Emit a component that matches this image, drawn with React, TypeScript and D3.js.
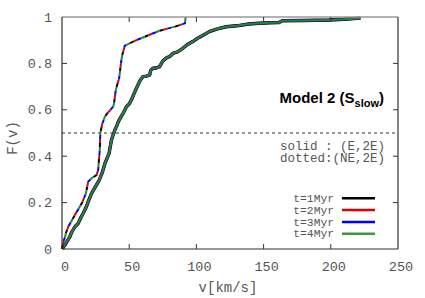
import React from "react";
import * as d3 from "d3";

const xTicks = [0, 50, 100, 150, 200, 250];
const yTicks = [0, 0.2, 0.4, 0.6, 0.8, 1];
const yTickLabels = ["0", "0.2", "0.4", "0.6", "0.8", "1"];

// solid: (E,2E)
const solidV = [0.5, 1, 2.2, 3.5, 5.9, 7, 9.6, 12, 14, 15.8, 18, 19.5, 22, 25, 27.7, 30, 32, 35, 36.8, 39.3, 40.5, 42, 44.2, 46, 47.9, 50, 51.6, 54, 56.5, 58, 60.2, 63, 65.2, 66, 67.6, 70, 72.6, 75, 78, 80, 82.5, 86, 89.9, 93, 97.3, 100, 102, 106, 109.6, 115, 122, 130, 139, 146.7, 155, 161.5, 164, 180, 198.5, 210, 222];
const solidF = [0, 0.01, 0.017, 0.03, 0.053, 0.07, 0.096, 0.11, 0.135, 0.154, 0.18, 0.204, 0.24, 0.27, 0.297, 0.33, 0.37, 0.412, 0.47, 0.513, 0.527, 0.55, 0.573, 0.59, 0.613, 0.625, 0.642, 0.675, 0.707, 0.725, 0.743, 0.745, 0.75, 0.77, 0.779, 0.78, 0.786, 0.81, 0.825, 0.829, 0.843, 0.85, 0.865, 0.88, 0.894, 0.905, 0.912, 0.925, 0.937, 0.948, 0.958, 0.962, 0.97, 0.973, 0.975, 0.976, 0.984, 0.985, 0.987, 0.99, 0.995];

// dotted: (NE,2E)
const dottedV = [0, 0.5, 1.5, 2.2, 3, 4.7, 7, 9, 10.9, 13, 15, 17.8, 19.5, 22, 25.7, 26.9, 28.1, 28.5, 30, 31.9, 33.1, 36, 38.1, 38.7, 40, 42.5, 44.2, 45, 46.7, 55.3, 72.6, 85, 91.5, 92];
const dottedF = [0, 0.017, 0.04, 0.05, 0.07, 0.096, 0.12, 0.14, 0.16, 0.18, 0.2, 0.24, 0.29, 0.305, 0.319, 0.34, 0.427, 0.5, 0.54, 0.57, 0.58, 0.6, 0.614, 0.628, 0.685, 0.736, 0.815, 0.84, 0.876, 0.9, 0.941, 0.96, 0.973, 1.0];

const seriesNames = ["t=1Myr", "t=2Myr", "t=3Myr", "t=4Myr"];
const seriesColors = ["#000000", "#e00000", "#0000ff", "#1e8c1e"];

export default function App() {
  const x = d3.scaleLinear().domain([0, 250]).range([62, 398]);
  const y = d3.scaleLinear().domain([0, 1]).range([249, 17]);
  const line = d3
    .line<[number, number]>()
    .x((d) => x(d[0]))
    .y((d) => y(d[1]))
    .curve(d3.curveLinear);
  const solidPts: [number, number][] = solidV.map((v, i) => [v, solidF[i]]);
  const dottedPts: [number, number][] = dottedV.map((v, i) => [v, dottedF[i]]);
  const solidWidths = [3.4, 2.6, 2.4, 2.0];
  const mono = "'Liberation Mono', 'Courier New', monospace";
  const tickColor = "#555";

  return (
    <svg
      width={425}
      height={298}
      style={{ position: "absolute", left: 0, top: 0, background: "#fff" }}
    >
      <line
        x1={x(0)}
        x2={x(250)}
        y1={y(0.5)}
        y2={y(0.5)}
        stroke="#333"
        strokeWidth={1}
        strokeDasharray="3,3"
      />
      {seriesColors.map((c, i) => (
        <path
          key={"s" + i}
          d={line(solidPts) || ""}
          fill="none"
          stroke={c}
          strokeWidth={solidWidths[i]}
          strokeLinejoin="round"
        />
      ))}
      {seriesColors.map((c, i) => (
        <path
          key={"d" + i}
          d={line(dottedPts) || ""}
          fill="none"
          stroke={c}
          strokeWidth={2}
          strokeDasharray="4,12"
          strokeDashoffset={-4 * i}
        />
      ))}
      <line x1={x(0)} x2={x(250)} y1={y(1)} y2={y(1)} stroke="#999" strokeWidth={1.6} />
      <line x1={x(0)} x2={x(0)} y1={y(0)} y2={y(1)} stroke="#333" strokeWidth={1.2} />
      <line x1={x(250)} x2={x(250)} y1={y(0)} y2={y(1)} stroke="#333" strokeWidth={1.2} />
      <line x1={x(0)} x2={x(250)} y1={y(0)} y2={y(0)} stroke="#333" strokeWidth={1.2} />
      {xTicks.slice(1, -1).map((t) => (
        <g key={"xt" + t}>
          <line x1={x(t)} x2={x(t)} y1={y(0)} y2={y(0) - 5} stroke="#333" />
          <line x1={x(t)} x2={x(t)} y1={y(1)} y2={y(1) + 5} stroke="#333" />
        </g>
      ))}
      {yTicks.slice(1, -1).map((t) => (
        <g key={"yt" + t}>
          <line x1={x(0)} x2={x(0) + 5} y1={y(t)} y2={y(t)} stroke="#333" />
          <line x1={x(250)} x2={x(250) - 5} y1={y(t)} y2={y(t)} stroke="#333" />
        </g>
      ))}
      {xTicks.map((t) => (
        <text
          key={"xl" + t}
          x={x(t) + 3}
          y={271}
          textAnchor="middle"
          fontFamily={mono}
          fontSize={13.5}
          fill={tickColor}
        >
          {String(t)}
        </text>
      ))}
      {yTicks.map((t, i) => (
        <text
          key={"yl" + t}
          x={52}
          y={y(t) + 4.5}
          textAnchor="end"
          fontFamily={mono}
          fontSize={13.5}
          fill={tickColor}
        >
          {yTickLabels[i]}
        </text>
      ))}
      <text x={228} y={292} textAnchor="middle" fontFamily={mono} fontSize={14} fill={tickColor}>
        v[km/s]
      </text>
      <text
        transform={`translate(17,138) rotate(-90)`}
        textAnchor="middle"
        fontFamily={mono}
        fontSize={14}
        fill={tickColor}
      >
        F(v)
      </text>
      <text
        x={384}
        y={103}
        textAnchor="end"
        fontFamily="'Liberation Sans', Arial, sans-serif"
        fontWeight="bold"
        fontSize={15}
        fill="#000"
      >
        Model 2 (S
        <tspan fontSize={11} dy={4}>
          slow
        </tspan>
        <tspan dy={-4}>)</tspan>
      </text>
      <text x={385} y={149.5} textAnchor="end" fontFamily={mono} fontSize={12.5} fill={tickColor} style={{ whiteSpace: "pre" }}>
        {"solid : (E,2E)"}
      </text>
      <text x={385} y={162} textAnchor="end" fontFamily={mono} fontSize={12.5} fill={tickColor}>
        dotted:(NE,2E)
      </text>
      {seriesNames.map((n, i) => (
        <g key={"lg" + i}>
          <text
            x={334}
            y={202 + i * 11.8}
            textAnchor="end"
            fontFamily={mono}
            fontSize={11.3}
            fill={tickColor}
          >
            {n}
          </text>
          <line
            x1={342}
            x2={375}
            y1={198.3 + i * 11.8}
            y2={198.3 + i * 11.8}
            stroke={i === 3 ? "#3a9a3a" : seriesColors[i]}
            strokeWidth={2.5}
          />
        </g>
      ))}
    </svg>
  );
}
